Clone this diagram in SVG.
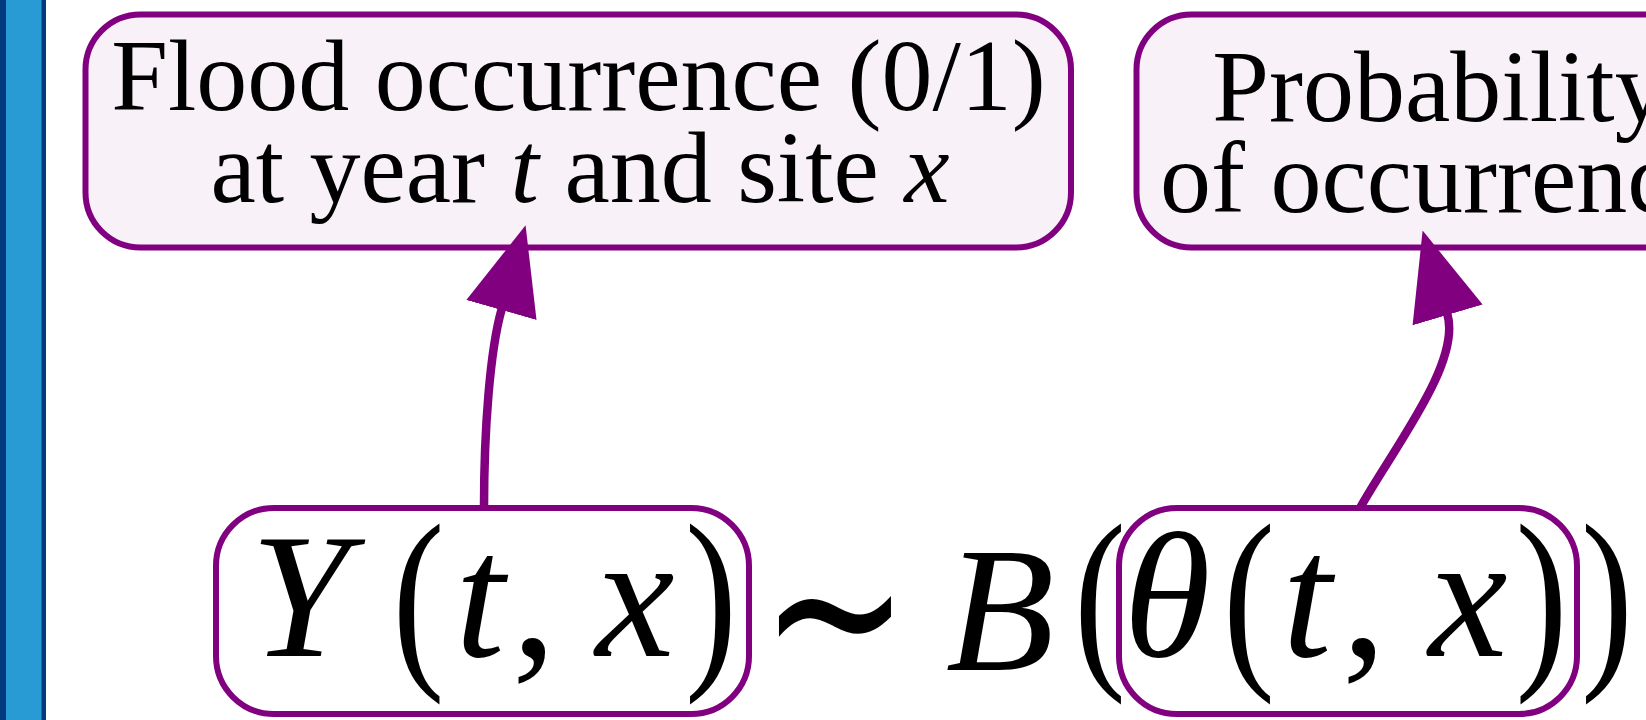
<svg xmlns="http://www.w3.org/2000/svg" width="1646" height="720" viewBox="0 0 1646 720">
<style>
.box{fill:#F8F2F8;stroke:#800080;stroke-width:6}
.mbox{fill:none;stroke:#800080;stroke-width:6}
.lbl{font-family:"Liberation Serif","Times New Roman",serif;font-size:102px;fill:#000;text-anchor:middle}
.it{font-style:italic}
.math{font-family:"Liberation Serif","Times New Roman",serif;font-size:178px;fill:#000;text-anchor:middle}
.par{font-size:199px;font-style:normal}
.sim{font-family:"DejaVu Sans",sans-serif;font-size:179px;fill:#000;text-anchor:middle}
.conn{fill:none;stroke:#800080;stroke-width:8.5}
</style>
<defs>
<marker id="ah" viewBox="0 0 88 73" refX="1" refY="36.5" markerWidth="88" markerHeight="73" markerUnits="userSpaceOnUse" orient="auto">
<path d="M0,0 L88,36.5 L0,73 z" fill="#800080"/>
</marker>
</defs>
<rect width="1646" height="720" fill="#fff"/>
<g id="sidebar">
<rect x="0" y="0" width="46" height="720" fill="#003C7D"/>
<rect x="6" y="0" width="35.5" height="720" fill="#299BD4"/>
</g>
<g id="node-flood">
<rect class="box" x="85.5" y="14.5" width="985.5" height="233" rx="55"/>
<text class="lbl"><tspan x="578.5" y="110">Flood occurrence (0/1)</tspan><tspan x="580" y="202">at year <tspan class="it">t</tspan> and site <tspan class="it">x</tspan></tspan></text>
</g>
<g id="node-prob">
<rect class="box" x="1136.5" y="14.5" width="605" height="233" rx="55"/>
<text class="lbl"><tspan x="1439" y="121">Probability</tspan><tspan x="1439" y="212">of occurrence</tspan></text>
</g>
<g id="node-y">
<rect class="mbox" x="216" y="508" width="533" height="206" rx="58"/>
<text class="math"><tspan class="it" x="300" y="656">Y</tspan><tspan class="par" x="418.5" y="662" textLength="52" lengthAdjust="spacingAndGlyphs">(</tspan><tspan class="it" x="480" y="656">t</tspan><tspan x="534" y="656">,</tspan><tspan class="it" x="635" y="656">x</tspan><tspan class="par" x="711" y="662" textLength="52" lengthAdjust="spacingAndGlyphs">)</tspan></text>
</g>
<g id="formula-mid">
<text class="sim" transform="translate(835,613) scale(1,1.33)" x="0" y="58.4">∼</text>
<text class="math"><tspan class="it" x="1000" y="670">B</tspan><tspan class="par" x="1100" y="662" textLength="52" lengthAdjust="spacingAndGlyphs">(</tspan></text>
</g>
<g id="node-theta">
<rect class="mbox" x="1119" y="508" width="458" height="206" rx="58"/>
<text class="math"><tspan class="it" x="1167" y="656">θ</tspan><tspan class="par" x="1249" y="662" textLength="52" lengthAdjust="spacingAndGlyphs">(</tspan><tspan class="it" x="1307" y="656">t</tspan><tspan x="1364" y="656">,</tspan><tspan class="it" x="1468" y="656">x</tspan><tspan class="par" x="1541.5" y="662" textLength="52" lengthAdjust="spacingAndGlyphs">)</tspan></text>
</g>
<g id="formula-end">
<text class="math"><tspan class="par" x="1607" y="662" textLength="52" lengthAdjust="spacingAndGlyphs">)</tspan></text>
</g>
<g id="connectors">
<path class="conn" d="M484,508 C484,430 490,350 501.7,309" marker-end="url(#ah)"/>
<path class="conn" d="M1360,508 C1395,446 1461.5,362 1447.3,314" marker-end="url(#ah)"/>
</g>
</svg>
